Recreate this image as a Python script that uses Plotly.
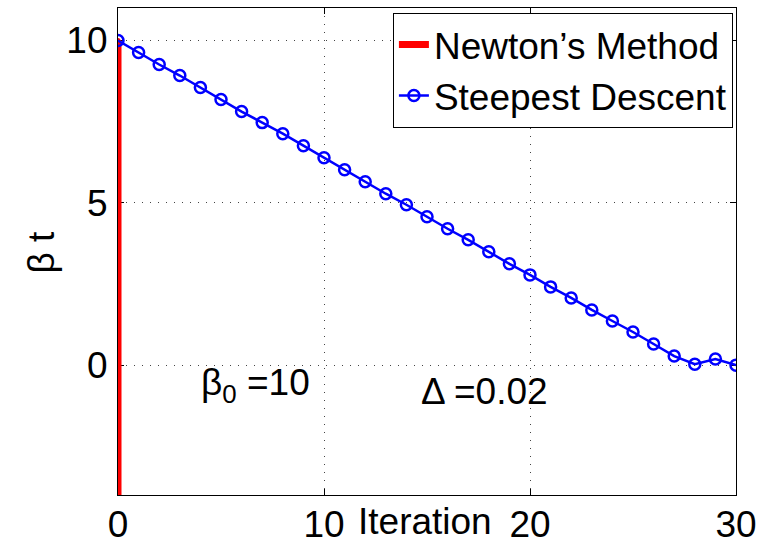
import plotly.graph_objects as go

iterations = list(range(0, 31))
steepest = [10.0, 9.63, 9.26, 8.92, 8.55, 8.18, 7.81, 7.47, 7.13, 6.76, 6.39,
            6.02, 5.65, 5.28, 4.94, 4.57, 4.20, 3.86, 3.49, 3.12, 2.78,
            2.41, 2.07, 1.70, 1.36, 1.02, 0.65, 0.28, 0.03, 0.19, 0.0]
newton_x = [0, 0]
newton_y = [10.0, -10.0]

x_ticks = [0, 10, 20, 30]
y_ticks = [0, 5, 10]

FONT = "Liberation Sans, Arial, Helvetica, sans-serif"
FS = 37

fig = go.Figure()
fig.add_trace(go.Scatter(
    x=newton_x, y=newton_y, mode="lines+markers", name="Newton’s Method",
    line=dict(color="#ff0000", width=7),
    marker=dict(symbol="circle", size=5, color="#ff0000"),
))
fig.add_trace(go.Scatter(
    x=iterations, y=steepest, mode="lines+markers", name="Steepest Descent",
    line=dict(color="#0000ff", width=2.5),
    marker=dict(symbol="circle-open", size=11, color="#0000ff",
                line=dict(width=2.5, color="#0000ff")),
))

axis_common = dict(
    showline=True, linecolor="black", linewidth=1.2, mirror="ticks",
    ticks="inside", ticklen=6, tickcolor="black", tickwidth=1,
    showgrid=True, gridcolor="#444", gridwidth=1, griddash="1px,7px",
    zeroline=False, tickfont=dict(family=FONT, size=FS, color="black"),
    layer="below traces", automargin=False,
)

fig.update_xaxes(range=[0, 30], tickvals=x_ticks, ticktext=[str(v) for v in x_ticks],
                 ticklabelstandoff=-4, **axis_common)
fig.update_yaxes(range=[-4, 11], tickvals=y_ticks, ticktext=[str(v) for v in y_ticks],
                 ticklabelstandoff=2, **axis_common)

fig.update_layout(
    width=762, height=542,
    margin=dict(l=118, r=26, t=8, b=47),
    paper_bgcolor="white", plot_bgcolor="white",
    font=dict(family=FONT, size=FS, color="black"),
    showlegend=True,
    legend=dict(x=0.995, y=0.99, xanchor="right", yanchor="top",
                bgcolor="white", bordercolor="black", borderwidth=1,
                font=dict(family=FONT, size=FS, color="black"),
                tracegroupgap=0),
    annotations=[
        dict(text="Iteration", x=14.9, xref="x", y=0, yref="paper",
             yanchor="top", yshift=-4, showarrow=False,
             font=dict(family=FONT, size=FS)),
        dict(text="β t", x=-0.123, xref="paper", y=0.5, yref="paper",
             xanchor="center", yanchor="middle",
             textangle=-90, showarrow=False, font=dict(family=FONT, size=FS)),
        dict(text="β<sub>0</sub> =10", x=3.95, xref="x", y=-0.6, yref="y",
             xanchor="left", showarrow=False, font=dict(family=FONT, size=FS)),
        dict(text="Δ =0.02", x=14.6, xref="x", y=-0.8, yref="y",
             xanchor="left", showarrow=False, font=dict(family=FONT, size=FS)),
    ],
)

fig.write_html("out.html")
